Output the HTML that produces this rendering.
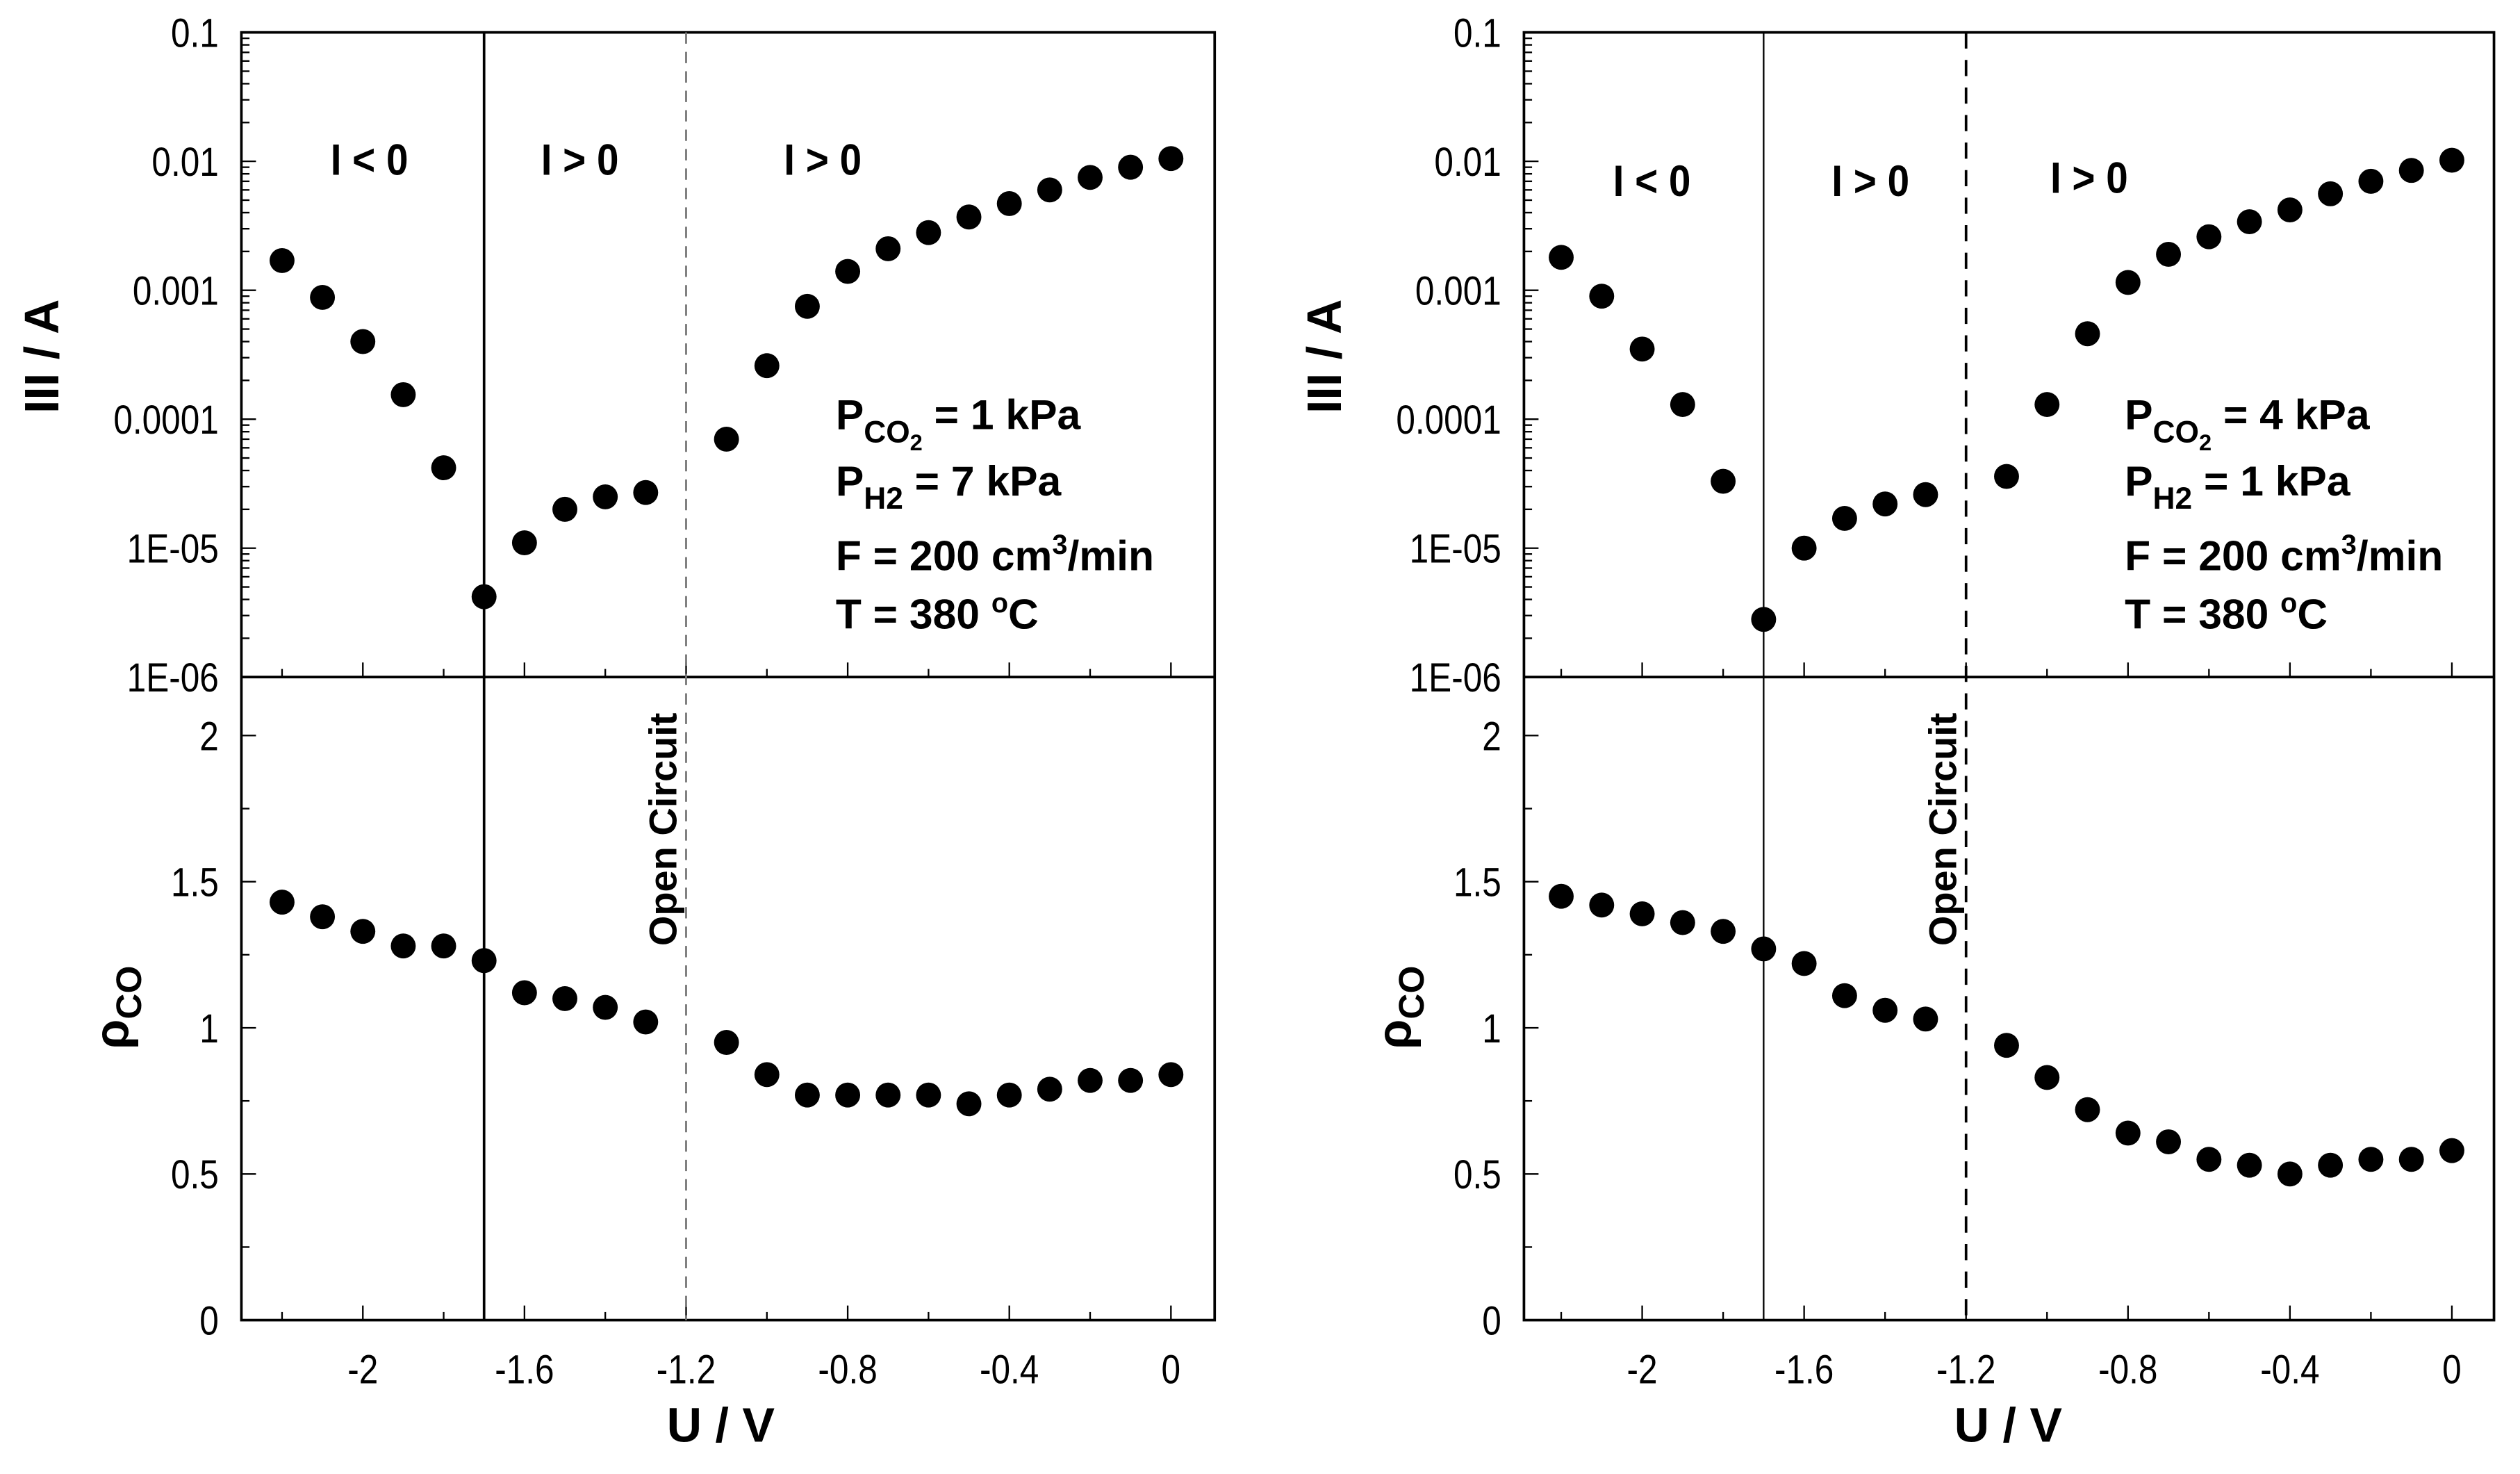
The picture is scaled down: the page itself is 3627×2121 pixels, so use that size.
<!DOCTYPE html>
<html><head><meta charset="utf-8"><style>
html,body{margin:0;padding:0;background:#fff;}
svg{display:block;}
text{font-family:"Liberation Sans",sans-serif;fill:#000;}
</style></head><body>
<svg id="chart" width="3627" height="2121" viewBox="0 0 1556 910" xmlns="http://www.w3.org/2000/svg"></svg>
<script>
const voltages = [-2.2,-2.1,-2.0,-1.9,-1.8,-1.7,-1.6,-1.5,-1.4,-1.3,-1.1,-1.0,-0.9,-0.8,-0.7,-0.6,-0.5,-0.4,-0.3,-0.2,-0.1,0];
const currentLeft = [0.0017,0.00088,0.0004,0.000155,4.2e-5,4.2e-6,1.1e-5,2e-5,2.5e-5,2.7e-5,7e-5,2.6e-4,7.5e-4,1.4e-3,2.1e-3,2.8e-3,3.7e-3,4.7e-3,6e-3,7.5e-3,9e-3,0.0105];
const rhoLeft = [1.43,1.38,1.33,1.28,1.28,1.23,1.12,1.10,1.07,1.02,0.95,0.84,0.77,0.77,0.77,0.77,0.74,0.77,0.79,0.82,0.82,0.84];
const currentRight = [0.0018,0.0009,0.00035,0.00013,3.3e-5,2.8e-6,1e-5,1.7e-5,2.2e-5,2.6e-5,3.6e-5,1.3e-4,4.6e-4,1.15e-3,1.9e-3,2.6e-3,3.4e-3,4.2e-3,5.6e-3,7e-3,8.5e-3,0.0102];
const rhoRight = [1.45,1.42,1.39,1.36,1.33,1.27,1.22,1.11,1.06,1.03,0.94,0.83,0.72,0.64,0.61,0.55,0.53,0.50,0.53,0.55,0.55,0.58];
const xTickValues = [-2,-1.6,-1.2,-0.8,-0.4,0];
const xTickLabels = ["-2","-1.6","-1.2","-0.8","-0.4","0"];
const logTickLabels = ["0.1","0.01","0.001","0.0001","1E-05","1E-06"];
const rhoTickValues = [0,0.5,1,1.5,2];
const rhoTickLabels = ["0","0.5","1","1.5","2"];

const NS="http://www.w3.org/2000/svg";
const svg=document.getElementById('chart');
function el(tag,attrs,parent){const e=document.createElementNS(NS,tag);for(const k in attrs)e.setAttribute(k,attrs[k]);(parent||svg).appendChild(e);return e;}
function sx(x,f){return `translate(${x},0) scale(${f},1) translate(${-x},0)`;}

function panel(p){
  const g=el('g',{});
  
  
  const L=p.left,R=p.right,T=20,M=418,B=815;
  const xs=v=>p.x0+v*p.ppv;
  const ly=v=>T+(-1-Math.log10(v))*(M-T)/5;
  const ry=v=>B-v*(B-M)/2.2;
  const fr=el('rect',{x:L,y:T,width:R-L,height:B-T,fill:'none',stroke:'#000','stroke-width':1.6},g);
  
  const mid=el('line',{x1:L,x2:R,y1:M,y2:M,stroke:'#000','stroke-width':1.6},g);
  
  for(let v=-2.2;v<=0.001;v+=0.2){
    const vv=Math.round(v*10)/10;const major=Math.abs(Math.round(vv*10)%4)===0;const len=major?9:5;
    [B,M].forEach(yb=>{const t=el('line',{x1:xs(vv),x2:xs(vv),y1:yb,y2:yb-len,stroke:'#000','stroke-width':1},g);
      });
  }
  xTickValues.forEach((v,i)=>{const t=el('text',{x:xs(v),y:B+39,'font-size':25,'text-anchor':'middle',transform:sx(xs(v),0.85)},g);
    t.textContent=xTickLabels[i];});
  for(let d=0;d<5;d++){
    for(let m=1;m<=9;m++){
      const v=Math.pow(10,-6+d)*m;const y=ly(v);const len=m===1?9:5;
      const t=el('line',{x1:L,x2:L+len,y1:y,y2:y,stroke:'#000','stroke-width':1},g);
      
    }
  }
  logTickLabels.forEach((s,i)=>{const y=T+i*(M-T)/5;const t=el('text',{x:L-14,y:y+9,'font-size':25,'text-anchor':'end',transform:sx(L-14,0.85)},g);
    t.textContent=s;});
  for(let v=0;v<=2.01;v+=0.25){const major=Math.abs(v*2-Math.round(v*2))<0.01;const y=ry(v);
    const t=el('line',{x1:L,x2:L+(major?9:5),y1:y,y2:y,stroke:'#000','stroke-width':1},g);
    }
  rhoTickValues.forEach((v,i)=>{const y=ry(v);const t=el('text',{x:L-14,y:y+9,'font-size':25,'text-anchor':'end',transform:sx(L-14,0.85)},g);
    t.textContent=rhoTickLabels[i];});
  const sl=el('line',{x1:xs(-1.7),x2:xs(-1.7),y1:T,y2:B,stroke:'#000','stroke-width':p.solidW},g);
  
  const dl=el('line',{x1:xs(-1.2),x2:xs(-1.2),y1:T,y2:B,stroke:p.dashColor,'stroke-width':p.dashW,'stroke-dasharray':p.dash},g);
  
  voltages.forEach((v,i)=>{
    const c=el('circle',{cx:xs(v),cy:ly(p.cur[i]),r:7.7,fill:'#000'},g);
    
    const c2=el('circle',{cx:xs(v),cy:ry(p.rho[i]),r:7.7,fill:'#000'},g);
    
  });
  p.regions.forEach(r=>{const t=el('text',{x:r[0],y:r[1],'font-size':27,'font-weight':'bold','text-anchor':'middle',transform:sx(r[0],0.9)},g);
    t.textContent=r[2];});
  const oc=el('text',{x:0,y:0,'font-size':24,'font-weight':'bold','text-anchor':'middle',transform:`translate(${xs(-1.2)-6},${512}) rotate(-90)`},g);
  oc.textContent='Open Circuit';
  const cx=p.condX;
  const c1=el('text',{x:cx,y:265,'font-size':26,'font-weight':'bold'},g);
  c1.innerHTML=`P<tspan font-size="19" dy="8">CO</tspan><tspan font-size="14" dy="5">2</tspan><tspan dy="-13"> = ${p.pco2} kPa</tspan>`;
  
  const c2=el('text',{x:cx,y:306,'font-size':26,'font-weight':'bold'},g);
  c2.innerHTML=`P<tspan font-size="19" dy="8">H2</tspan><tspan dy="-8"> = ${p.ph2} kPa</tspan>`;
  
  const c3=el('text',{x:cx,y:352,'font-size':26,'font-weight':'bold'},g);
  c3.innerHTML=`F = 200 cm<tspan font-size="17" dy="-10">3</tspan><tspan dy="10">/min</tspan>`;
  
  const c4=el('text',{x:cx,y:388,'font-size':26,'font-weight':'bold'},g);
  c4.innerHTML=`T = 380 <tspan font-size="17" dy="-10">o</tspan><tspan dy="10">C</tspan>`;
  
  const yt=el('text',{x:0,y:0,'font-size':30,'font-weight':'bold','text-anchor':'middle',transform:`translate(${L-113},${220}) rotate(-90)`},g);
  yt.textContent='III / A';
  const rt=el('text',{x:0,y:0,'font-size':30,'font-weight':'bold','text-anchor':'middle',transform:`translate(${L-70},${622}) rotate(-90)`},g);
  rt.innerHTML='ρ<tspan font-size="22" dy="8">CO</tspan>';
  const xt=el('text',{x:p.xTitleX,y:890,'font-size':30,'font-weight':'bold','text-anchor':'middle'},g);
  xt.textContent='U / V';
}
panel({name:'left-panel',left:149,right:750,x0:723,ppv:249.5,cur:currentLeft,rho:rhoLeft,solidW:1.6,dashColor:'#777',dashW:1.2,dash:'7,5',
  regions:[[228,108,'I < 0'],[358,108,'I > 0'],[508,108,'I > 0']],condX:516,pco2:1,ph2:7,xTitleX:445});
panel({name:'right-panel',left:941,right:1540,x0:1514,ppv:250,cur:currentRight,rho:rhoRight,solidW:1,dashColor:'#000',dashW:1.6,dash:'10,7',
  regions:[[1020,121,'I < 0'],[1155,121,'I > 0'],[1290,119,'I > 0']],condX:1312,pco2:4,ph2:1,xTitleX:1240});
</script>
</body></html>
